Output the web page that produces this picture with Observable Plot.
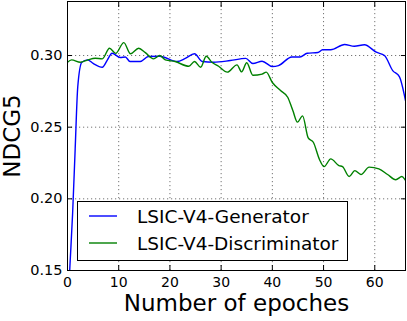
<!DOCTYPE html>
<html><head><meta charset="utf-8">
<script src="https://cdn.jsdelivr.net/npm/d3@7"></script>
<script src="https://cdn.jsdelivr.net/npm/@observablehq/plot@0.6"></script>
<style>html,body{margin:0;padding:0;background:#fff} svg{display:block}</style>
</head><body><div id="chart"></div>
<script>
const seriesNames = ["LSIC-V4-Generator", "LSIC-V4-Discriminator"];
const seriesColors = ["#0000ff", "#008000"];
const xTicks = [0, 10, 20, 30, 40, 50, 60];
const yTicks = [0.15, 0.20, 0.25, 0.30];
const xLabel = "Number of epoches";
const yLabel = "NDCG5";

const genEpochs = [0,0.5,1,1.5,2,2.8,3.9,5,6.8,7.8,8.7,10.3,11.3,12.2,14.2,15.8,18,21.4,23,24.8,26.3,28.5,31.8,34.8,36.2,38,40,41.2,43.8,45.4,46.8,48.9,49.8,51.4,54.1,56,58,60.3,61.9,63.5,64.8,66];
const genValues = [0.12,0.155,0.19,0.235,0.278,0.2953,0.297,0.2945,0.2918,0.297,0.3016,0.2986,0.299,0.2958,0.2958,0.2993,0.2995,0.2958,0.298,0.3012,0.2958,0.2953,0.2965,0.298,0.2944,0.296,0.2923,0.293,0.299,0.299,0.3016,0.3021,0.304,0.304,0.3077,0.3065,0.3075,0.3023,0.30,0.2895,0.2853,0.2686];

const discEpochs = [0,0.8,2.5,4,5.4,6.8,8.2,9.4,11,12.3,13.9,15.2,16.8,18,19.1,21,23.7,24.8,26,27.1,28.2,29.5,31.2,33.1,34,35,36.2,38,38.8,40,41.6,43,44,44.9,45.9,47,48,49.2,50.1,51.4,53,53.7,55,56.1,57.3,58.9,60.8,62.5,64.1,65.3,66];
const discValues = [0.2953,0.297,0.2953,0.297,0.2981,0.2977,0.3051,0.3015,0.309,0.3012,0.3051,0.302,0.2977,0.30,0.297,0.2958,0.2925,0.2958,0.2918,0.2995,0.2953,0.2925,0.2884,0.2935,0.2886,0.295,0.2862,0.287,0.2884,0.2812,0.2756,0.2709,0.2616,0.2535,0.2579,0.2425,0.2395,0.2275,0.2225,0.2279,0.2232,0.2225,0.2156,0.2197,0.217,0.2221,0.2209,0.217,0.2133,0.2156,0.2128];

const rows = [
  ...genEpochs.map((e, i) => ({series: seriesNames[0], epoch: e, value: genValues[i]})),
  ...discEpochs.map((e, i) => ({series: seriesNames[1], epoch: e, value: discValues[i]}))
];

const font = "DejaVu Sans";
const chart = Plot.plot({
  width: 407, height: 321,
  marginLeft: 67, marginRight: 2, marginTop: 1, marginBottom: 51,
  style: {fontFamily: font, background: "#fff", color: "#000"},
  x: {domain: [0, 66], label: null},
  y: {domain: [0.15, 0.3377], label: null},
  color: {domain: seriesNames, range: seriesColors},
  marks: [
    Plot.gridX(xTicks, {stroke: "#000", strokeOpacity: 0.55, strokeDasharray: "1.2,2.8", strokeWidth: 1}),
    Plot.gridY(yTicks, {stroke: "#000", strokeOpacity: 0.55, strokeDasharray: "1.2,2.8", strokeWidth: 1}),
    Plot.line(rows, {x: "epoch", y: "value", z: "series", stroke: "series", strokeWidth: 1.4, curve: "monotone-x", clip: true}),
    Plot.axisX(xTicks, {anchor: "bottom", tickSize: 0, tickPadding: 7, fontSize: 14, label: null, tickFormat: d => String(d)}),
    Plot.axisX(xTicks, {anchor: "bottom", tickSize: -5, text: null, label: null}),
    Plot.axisX(xTicks, {anchor: "top", tickSize: -5, text: null, label: null}),
    Plot.axisY(yTicks, {anchor: "left", tickSize: 0, tickPadding: 5, fontSize: 14.5, label: null, tickFormat: d3.format(".2f")}),
    Plot.axisY(yTicks, {anchor: "left", tickSize: -5, text: null, label: null}),
    Plot.axisY(yTicks, {anchor: "right", tickSize: -5, text: null, label: null}),
    Plot.frame({stroke: "#000", strokeWidth: 1}),
    Plot.text([xLabel], {frameAnchor: "bottom", dy: 33.6, fontSize: 23, fill: "#000", textAnchor: "middle", lineAnchor: "middle"}),
    Plot.text([yLabel], {frameAnchor: "left", dx: -55, rotate: -90, fontSize: 23, fill: "#000", textAnchor: "middle", lineAnchor: "middle"})
  ]
});
document.getElementById("chart").appendChild(chart);

// legend (matplotlib-style box, lower left inside the axes)
const svg = d3.select(chart);
const lg = svg.append("g").attr("font-family", font).attr("font-size", 18.5).attr("text-anchor", "start");
lg.append("rect").attr("x", 77.5).attr("y", 201.5).attr("width", 270).attr("height", 59)
  .attr("fill", "#fff").attr("stroke", "#000").attr("stroke-width", 1);
seriesNames.forEach((name, i) => {
  const cy = 216 + i * 27;
  lg.append("line").attr("x1", 89).attr("x2", 117).attr("y1", cy).attr("y2", cy)
    .attr("stroke", seriesColors[i]).attr("stroke-width", 1.4);
  lg.append("text").attr("x", 137).attr("y", cy).attr("dy", "0.36em").attr("fill", "#000").attr("text-anchor", "start").text(name);
});
</script>
</body></html>
